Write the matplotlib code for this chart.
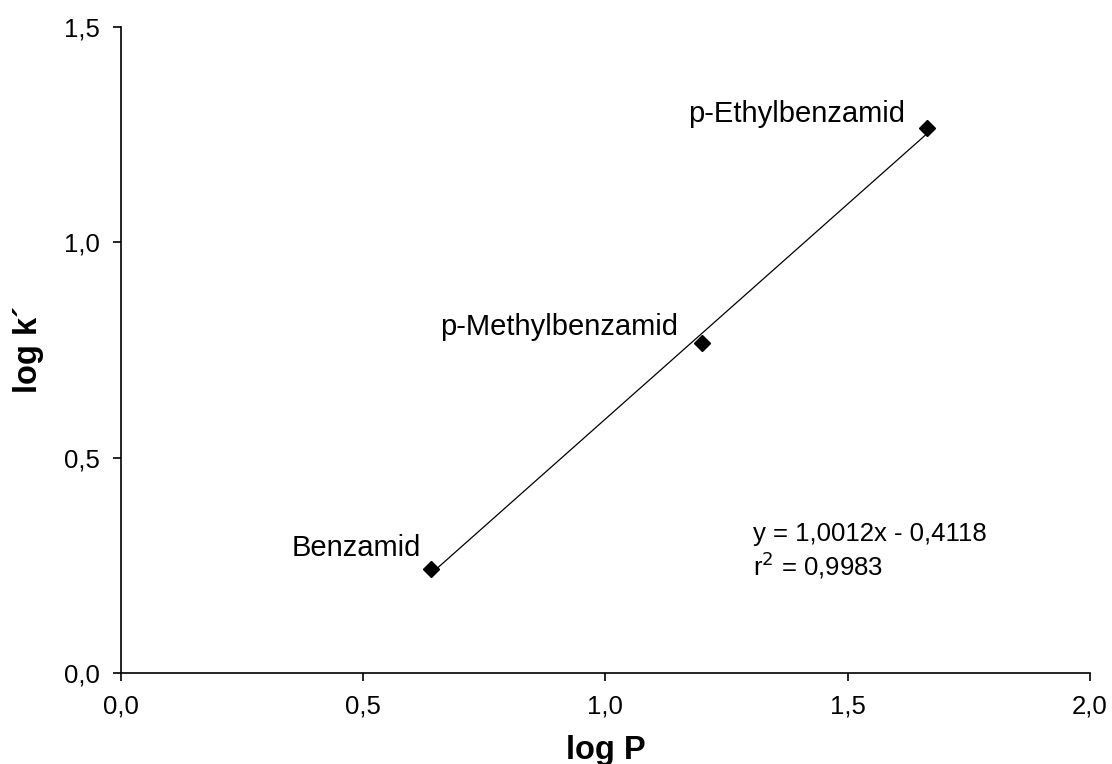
import numpy as np
import matplotlib
matplotlib.use("Agg")
import matplotlib.pyplot as plt

plt.rcParams['font.family'] = ['Liberation Sans', 'DejaVu Sans']

names = ["Benzamid", "p-Methylbenzamid", "p-Ethylbenzamid"]
log_p = [0.64, 1.20, 1.664]
log_k = [0.241, 0.766, 1.265]
x_ticks = [0.0, 0.5, 1.0, 1.5, 2.0]
y_ticks = [0.0, 0.5, 1.0, 1.5]
equation = "y = 1,0012x - 0,4118"
r2_text = "r$^2$ = 0,9983"

fig = plt.figure(figsize=(11.12, 7.64), dpi=100)
ax = fig.add_axes([0.1088, 0.1191, 0.8712, 0.8456])

slope, intercept = np.polyfit(log_p, log_k, 1)
xl = np.array([min(log_p), max(log_p)])
ax.plot(xl, slope * xl + intercept, color='black', lw=0.9)
ax.plot(log_p, log_k, linestyle='none', marker='D', color='black', markersize=8)

offsets = [(-7.2, 9.4), (-17.3, 5.8), (-15.8, 4.3)]
for n, x, y, off in zip(names, log_p, log_k, offsets):
    ax.annotate(n, (x, y), xytext=off, textcoords='offset points',
                ha='right', va='baseline', fontsize=21)

ax.text(0.652, 0.2043, equation, transform=ax.transAxes, fontsize=18.5,
        va='baseline', ha='left')
ax.text(0.652, 0.1517, r2_text, transform=ax.transAxes, fontsize=18.5,
        va='baseline', ha='left')

ax.set_xlim(0, 2)
ax.set_ylim(0, 1.5)
ax.set_xticks(x_ticks)
ax.set_yticks(y_ticks)
fmt = lambda v: f"{v:.1f}".replace('.', ',')
ax.set_xticklabels([fmt(v) for v in x_ticks], fontsize=18.5)
ax.set_yticklabels([fmt(v) for v in y_ticks], fontsize=18.5)
ax.tick_params(direction='out', length=5.5, width=1.2, pad=10)
for s in ['top', 'right']:
    ax.spines[s].set_visible(False)
for s in ['left', 'bottom']:
    ax.spines[s].set_linewidth(1.2)

ax.set_xlabel("log P", fontsize=23.5, fontweight='bold', labelpad=12)
ax.set_ylabel("log k´", fontsize=23.5, fontweight='bold', labelpad=14)

fig.savefig("out.png", dpi=100)
